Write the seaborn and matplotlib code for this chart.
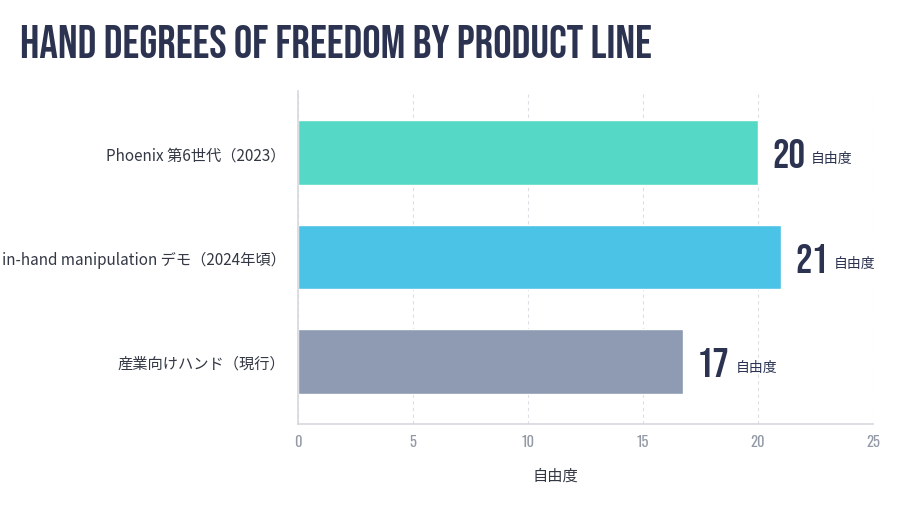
import matplotlib
matplotlib.use("Agg")
import matplotlib.pyplot as plt
import matplotlib.font_manager as fm
import seaborn as sns
import pandas as pd

# Données du graphique
products = ["Phoenix 第6世代（2023）", "in-hand manipulation デモ（2024年頃）", "産業向けハンド（現行）"]
dof = [20, 21, 16.75]
bar_colors = ["#55d9c6", "#4bc3e6", "#8f9bb3"]
unit = "自由度"
x_ticks = [0, 5, 10, 15, 20, 25]

sns.set_theme(style="white")
plt.rcParams["font.family"] = ["Noto Sans CJK JP", "DejaVu Sans"]

# polices étroites (la première disponible)
names = {f.name for f in fm.fontManager.ttflist}
def first_font(choices):
    return [n for n in choices if n in names][0]
display = first_font(["Bebas Neue", "Oswald", "DejaVu Sans"])
narrow = first_font(["Oswald", "Bebas Neue", "DejaVu Sans"])

navy = "#2b3350"
df = pd.DataFrame({"product": products, "dof": dof})

fig = plt.figure(figsize=(9, 5.06), dpi=100)
ax = fig.add_axes([0.3311, 0.160, 0.6389, 0.658])
sns.barplot(data=df, x="dof", y="product", hue="product", palette=bar_colors,
            width=0.62, legend=False, ax=ax, saturation=1)

ax.set_xlim(0, 25)
ax.set_ylim(2.6, -0.59)
ax.set_xticks(x_ticks)
ax.set_xticklabels([str(t) for t in x_ticks], color="#9299a5", fontsize=10.5, family=narrow)
ax.tick_params(axis="x", length=0, pad=7)
ax.tick_params(axis="y", length=0, pad=9, labelsize=11, labelcolor="#333844")
ax.set_ylabel("")
ax.set_xlabel(unit, fontsize=11, color="#333844", labelpad=12)
ax.xaxis.set_label_coords(0.447, -0.128)

ax.grid(axis="x", color="#dcdfe4", linestyle=(0, (3, 3)), linewidth=0.8)
ax.set_axisbelow(True)
for side in ["top", "right"]:
    ax.spines[side].set_visible(False)
for side in ["left", "bottom"]:
    ax.spines[side].set_color("#d5d8de")
    ax.spines[side].set_linewidth(1.2)

# étiquettes de valeur
for i, v in enumerate(dof):
    t = ax.annotate(f"{round(v)}", xy=(v, i), xytext=(10, 0), textcoords="offset points",
                    va="center", ha="left", fontsize=29.5, color=navy, family=display)
    ax.annotate(unit, xy=(1, 0.3), xycoords=t, xytext=(4, 0), textcoords="offset points",
                va="center", ha="left", fontsize=10, color=navy)

fig.text(0.022, 0.918, "HAND DEGREES OF FREEDOM BY PRODUCT LINE", fontsize=33.2,
         color=navy, family=display, va="center", ha="left")

fig.savefig("out.png", dpi=100, facecolor="white")
